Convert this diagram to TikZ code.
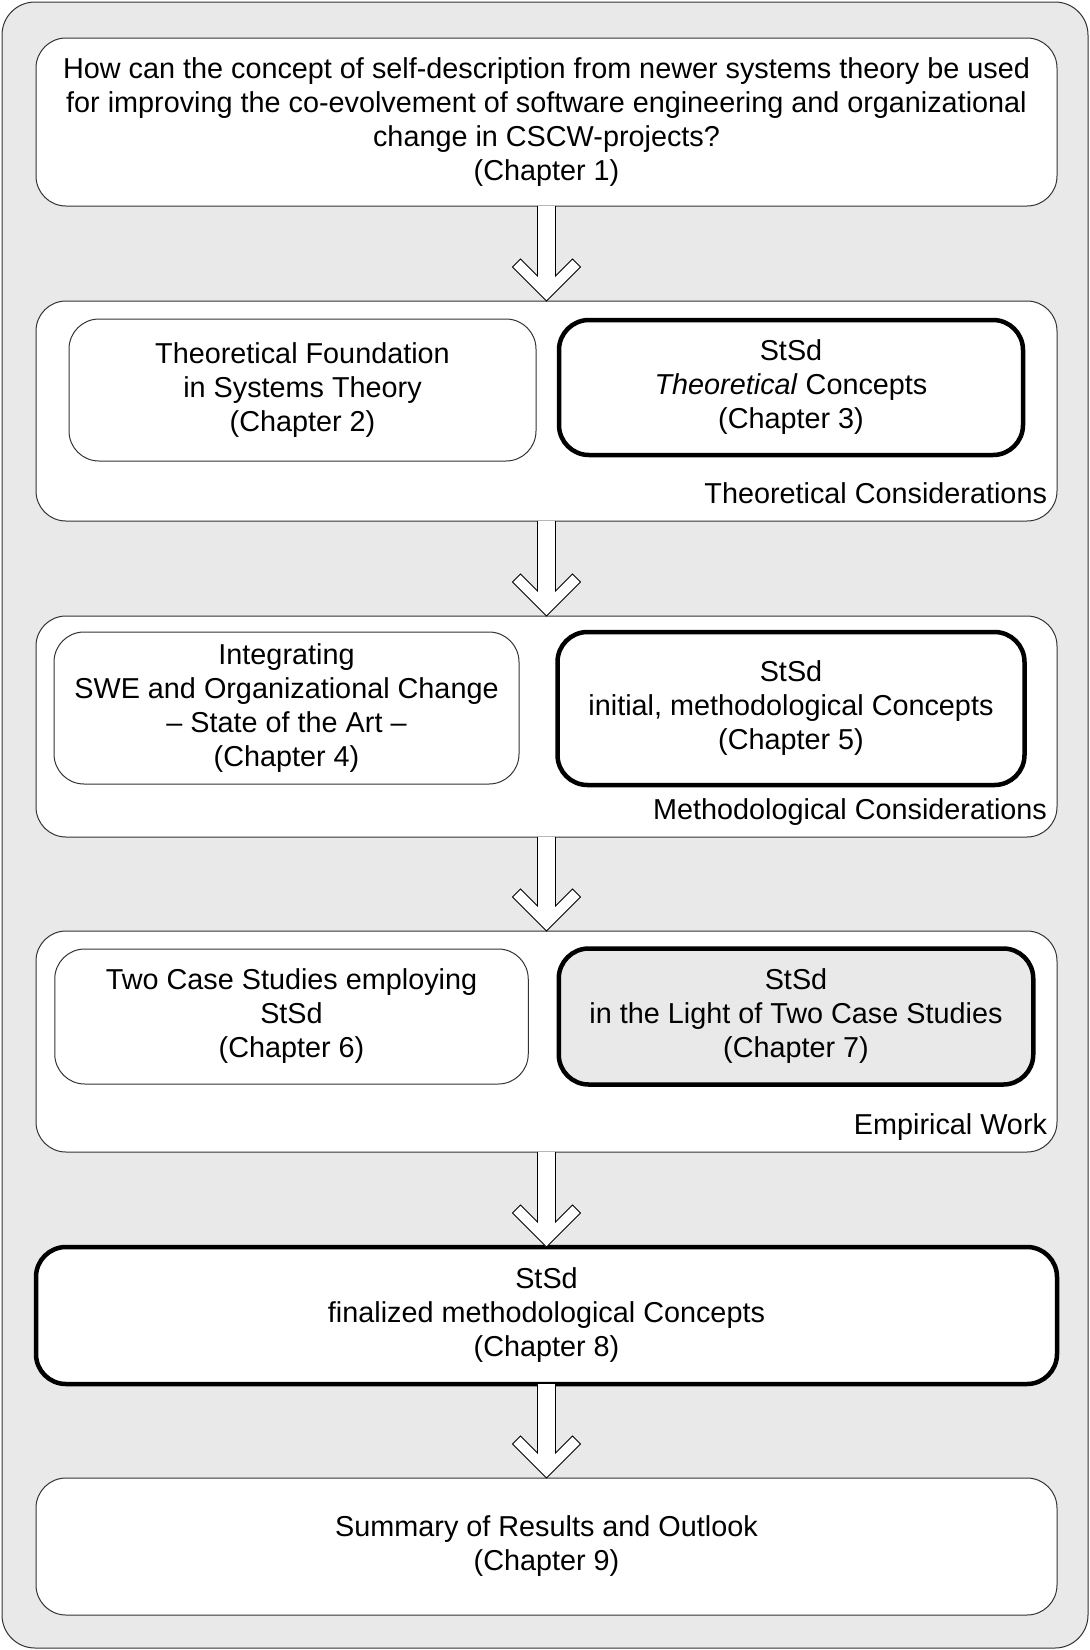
\documentclass[tikz,border=0pt]{standalone}
\usepackage{fontspec}
\setmainfont{Liberation Sans}
\usetikzlibrary{calc}
\definecolor{bgc}{HTML}{E9E9E9}
\definecolor{thinc}{HTML}{333333}
\newcommand\bigarr[2]{\draw[bigarrow] ($(#1.south)+(-9,0)$) -- ($(#2.north)+(-9,-25)$) -- ($(#2.north)+(-26,-42)$) -- ($(#2.north)+(-34,-34)$) -- (#2.north) -- ($(#2.north)+(34,-34)$) -- ($(#2.north)+(26,-42)$) -- ($(#2.north)+(9,-25)$) -- ($(#1.south)+(9,0)$);}
\begin{document}
\begin{tikzpicture}[x=1pt,y=-1pt,
  box/.style={draw=thinc, line width=1pt, fill=white, rounded corners=30pt, outer sep=0pt, inner sep=0pt, align=center, font=\fontsize{28.8}{34}\selectfont},
  thickbox/.style={box, draw=black, line width=4.5pt},
  grouplabel/.style={anchor=base east, inner sep=0pt, outer sep=0pt, font=\fontsize{28.8}{34}\selectfont},
  bigarrow/.style={draw=black, line width=0.9pt, fill=white, line join=miter}]
\useasboundingbox (0,0) rectangle (1090,1650);
\draw[draw=thinc, line width=1pt, fill=bgc, rounded corners=33pt] (2,2) rectangle (1088,1648);

\node[box, minimum width=1021pt, minimum height=168pt] (q) at (546.5,122)
  {How can the concept of self-description from newer systems theory be used\\for improving the co-evolvement of software engineering and organizational\\change in CSCW-projects?\\(Chapter 1)};

\node[box, minimum width=1021pt, minimum height=220pt] (g2) at (546.5,411) {};
\node[box, minimum width=467pt, minimum height=142pt] (c2) at (302.5,390)
  {Theoretical Foundation\\in Systems Theory\\(Chapter 2)};
\node[thickbox, minimum width=464pt, minimum height=135pt] (c3) at (791,387.5)
  {StSd\\\textit{Theoretical} Concepts\\(Chapter 3)};
\node[grouplabel] (l2) at (1047,503) {Theoretical Considerations};

\node[box, minimum width=1021pt, minimum height=221pt] (g3) at (546.5,726.5) {};
\node[box, minimum width=465pt, minimum height=152pt] (c4) at (286.5,708)
  {Integrating\\SWE and Organizational Change\\-- State of the Art --\\(Chapter 4)};
\node[thickbox, minimum width=467pt, minimum height=153pt] (c5) at (791,708.5)
  {StSd\\initial, methodological Concepts\\(Chapter 5)};
\node[grouplabel] (l3) at (1047,819) {Methodological Considerations};

\node[box, minimum width=1021pt, minimum height=221pt] (g4) at (546.5,1041.5) {};
\node[box, minimum width=473.5pt, minimum height=135pt] (c6) at (291.5,1016.5)
  {Two Case Studies employing\\StSd\\(Chapter 6)};
\node[thickbox, fill=bgc, minimum width=474.5pt, minimum height=136pt] (c7) at (796,1016.5)
  {StSd\\in the Light of Two Case Studies\\(Chapter 7)};
\node[grouplabel] (l4) at (1047,1134) {Empirical Work};

\node[thickbox, minimum width=1021pt, minimum height=137pt] (c8) at (546.5,1315.5)
  {StSd\\finalized methodological Concepts\\(Chapter 8)};
\node[box, minimum width=1021pt, minimum height=137pt] (c9) at (546.5,1546.5)
  {Summary of Results and Outlook\\(Chapter 9)};

\bigarr{q}{g2}
\bigarr{g2}{g3}
\bigarr{g3}{g4}
\bigarr{g4}{c8}
\bigarr{c8}{c9}
\end{tikzpicture}
\end{document}
